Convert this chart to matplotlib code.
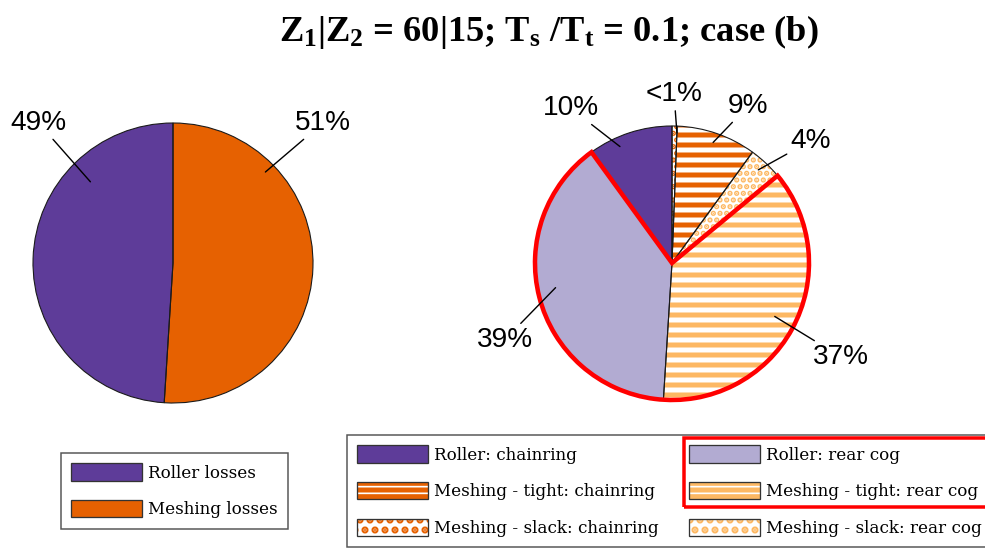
import matplotlib
matplotlib.use('Agg')
import matplotlib.pyplot as plt
from matplotlib.patches import Patch, Wedge, Rectangle
from matplotlib.font_manager import FontProperties

W, H, DPI = 985, 552, 120


def pt(px):
    # pixel size -> points at this dpi
    return px * 72 / DPI


# ---- data ----
overall_labels = ['Roller losses', 'Meshing losses']
overall_share = [49, 51]
overall_text = ['49%', '51%']

detail_labels = ['Roller: chainring', 'Meshing - tight: chainring', 'Meshing - slack: chainring',
                 'Roller: rear cog', 'Meshing - tight: rear cog', 'Meshing - slack: rear cog']
detail_share = [10.0, 9.4, 0.6, 39.0, 37.0, 4.0]
detail_text = ['10%', '9%', '<1%', '39%', '37%', '4%']
highlighted = ['Roller: rear cog', 'Meshing - tight: rear cog']

# clockwise from 12 o'clock
overall_order = [1, 0]
detail_order = [2, 1, 5, 4, 3, 0]

# ---- style ----
PURPLE, ORANGE, LAVENDER, LIGHT = '#5e3c99', '#e66101', '#b2abd2', '#fdb863'
overall_color = [PURPLE, ORANGE]
detail_color = [PURPLE, ORANGE, ORANGE, LAVENDER, LIGHT, LIGHT]
detail_hatch = [None, '--', '...', None, '--', '...']
detail_hatch_lw = [0, pt(5), pt(3.8), 0, pt(5), pt(3.8)]
legend_hatch = [None, '---', '..', None, '---', '..']
legend_hatch_lw = [0, pt(2.6), pt(4), 0, pt(2.6), pt(4)]

# label positions (text, tip) in pie units
overall_pos = {'49%': ((-0.96, 1.0), (-0.59, 0.58)),
               '51%': ((1.07, 1.0), (0.66, 0.65))}
detail_pos = {'10%': ((-0.74, 1.13), (-0.38, 0.85)),
              '<1%': ((0.015, 1.23), (0.036, 0.95)),
              '9%': ((0.555, 1.146), (0.30, 0.88)),
              '4%': ((1.01, 0.89), (0.63, 0.68)),
              '37%': ((1.234, -0.686), (0.75, -0.39)),
              '39%': ((-1.22, -0.56), (-0.85, -0.18))}

plt.rcParams['hatch.linewidth'] = pt(5)
plt.rcParams['mathtext.fontset'] = 'custom'
plt.rcParams['mathtext.bf'] = 'Liberation Serif:bold'
plt.rcParams['mathtext.rm'] = 'Liberation Serif:bold'

pct_font = FontProperties(family='Liberation Sans', size=pt(28))
LEG_PX = 16.8
HANDLE_W, HANDLE_H = 71, 20
leg_font = FontProperties(family='DejaVu Serif', size=pt(LEG_PX))

fig = plt.figure(figsize=(W / DPI, H / DPI), dpi=DPI)


def pie_axes(cx, cy, r, lim=1.35):
    half = r * lim
    ax = fig.add_axes([(cx - half) / W, (H - cy - half) / H, 2 * half / W, 2 * half / H])
    return ax


def draw_pie(ax, shares, colors, hatches, hatch_lw):
    wedges, _ = ax.pie(shares, startangle=90, counterclock=False, radius=1,
                       colors=colors, wedgeprops=dict(linewidth=0))
    for w, c, h, hl in zip(wedges, colors, hatches, hatch_lw):
        if h:
            w.set_facecolor('white')
            w.set_edgecolor(c)
            w.set_hatch(h)
            if hasattr(w, 'set_hatch_linewidth'):
                w.set_hatch_linewidth(hl)
        ax.add_patch(Wedge((0, 0), 1, w.theta1, w.theta2, fc='none',
                           ec='#1a1a1a', lw=pt(1.1)))
    ax.set_xlim(-1.35, 1.35)
    ax.set_ylim(-1.35, 1.35)
    ax.set_aspect('equal')
    ax.axis('off')
    return wedges


def put_labels(ax, texts, pos):
    for t in texts:
        txt, tip = pos[t]
        ax.annotate(t, xy=tip, xytext=txt, ha='center', va='center',
                    fontproperties=pct_font, annotation_clip=False,
                    arrowprops=dict(arrowstyle='-', color='black', lw=pt(1.4),
                                    shrinkA=0, shrinkB=0))


# left pie
ax1 = pie_axes(173, 263, 140)
draw_pie(ax1, [overall_share[i] for i in overall_order],
         [overall_color[i] for i in overall_order],
         [None, None], [0, 0])
put_labels(ax1, overall_text, overall_pos)

# right pie
ax2 = pie_axes(672, 263, 137)
wedges = draw_pie(ax2, [detail_share[i] for i in detail_order],
                  [detail_color[i] for i in detail_order],
                  [detail_hatch[i] for i in detail_order],
                  [detail_hatch_lw[i] for i in detail_order])
hl_wedges = [w for w, i in zip(wedges, detail_order) if detail_labels[i] in highlighted]
ax2.add_patch(Wedge((0, 0), 1, min(w.theta1 for w in hl_wedges), max(w.theta2 for w in hl_wedges),
                    fc='none', ec='#ff0000', lw=pt(4.5), joinstyle='miter'))
put_labels(ax2, detail_text, detail_pos)

# title
fig.text(549 / W, (H - 41) / H,
         r'$\mathbf{Z_1|Z_2}$ = 60|15; $\mathbf{T_s}$ /$\mathbf{T_t}$ = 0.1; case (b)',
         ha='center', va='baseline', fontsize=pt(36.5),
         family='Liberation Serif', weight='bold')


def make_handle(color, hatch, hlw):
    if not hatch:
        return Patch(facecolor=color, edgecolor='#333333', lw=pt(1.3))
    hp = Patch(facecolor='white', edgecolor=color, hatch=hatch, lw=0)
    if hasattr(hp, 'set_hatch_linewidth'):
        hp.set_hatch_linewidth(hlw)
    return (hp, Patch(facecolor='none', edgecolor='#333333', lw=pt(1.3)))


leg_kw = dict(loc='upper left', prop=leg_font, frameon=True, fancybox=False,
              edgecolor='#555555', framealpha=1,
              handlelength=HANDLE_W / LEG_PX, handleheight=HANDLE_H / LEG_PX,
              handletextpad=6 / LEG_PX, labelspacing=1.1, borderpad=0.62, borderaxespad=0)

leg1 = fig.legend([make_handle(overall_color[i], None, 0) for i in range(2)],
                  overall_labels, bbox_to_anchor=(61 / W, (H - 453) / H), **leg_kw)
leg1.get_frame().set_linewidth(pt(1.5))

leg2 = fig.legend([make_handle(detail_color[i], legend_hatch[i], legend_hatch_lw[i])
                   for i in range(6)],
                  detail_labels, ncols=2, columnspacing=30 / LEG_PX,
                  bbox_to_anchor=(347 / W, (H - 435) / H), **leg_kw)
leg2.get_frame().set_linewidth(pt(1.5))

# red box around the highlighted legend entries
fig.canvas.draw()
boxes = [t.get_window_extent() for t in leg2.get_texts() if t.get_text() in highlighted]
x0 = min(b.x0 for b in boxes) - HANDLE_W - 6 - 5
yc = [(b.y0 + b.y1) / 2 for b in boxes]
y0 = min(yc) - 15
y1 = max(yc) + 17
fig.add_artist(Rectangle((x0 / W, y0 / H), (W + 20 - x0) / W, (y1 - y0) / H,
                         transform=fig.transFigure, fill=False, ec='#ff0000',
                         lw=pt(3.5), zorder=10))

fig.savefig('out.png', dpi=DPI)
